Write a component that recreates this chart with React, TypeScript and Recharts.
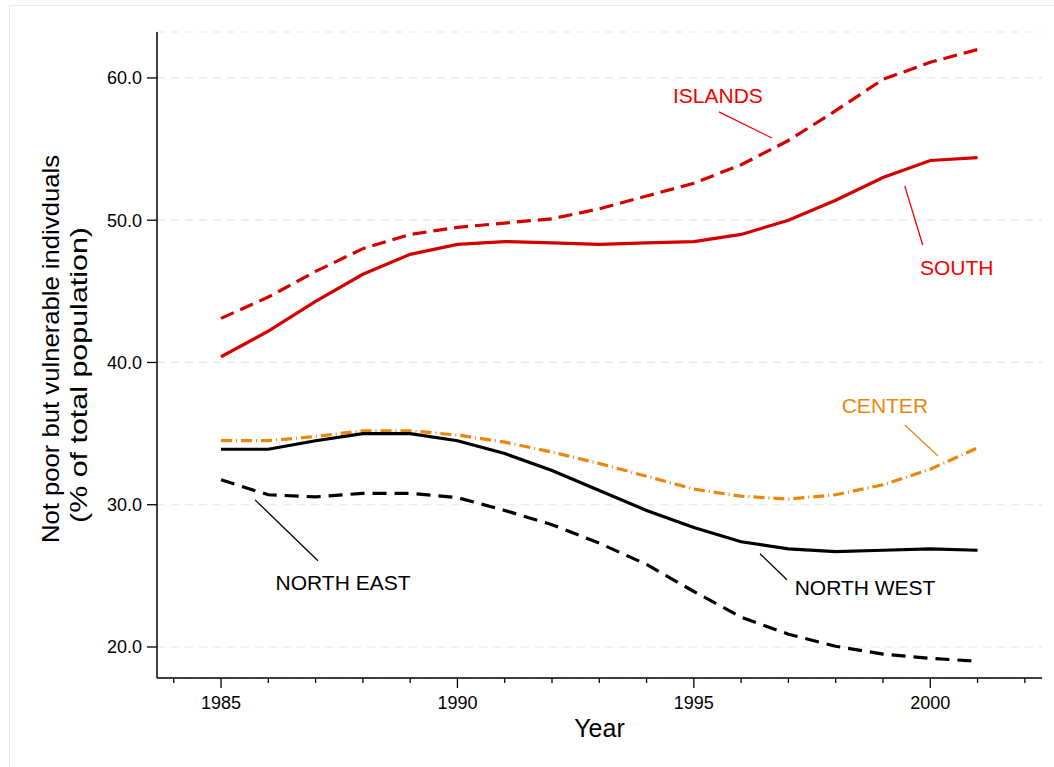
import {
  LineChart,
  Line,
  XAxis,
  YAxis,
  CartesianGrid,
  ReferenceLine,
  ReferenceDot,
  Label,
} from 'recharts'

const years = [1985, 1986, 1987, 1988, 1989, 1990, 1991, 1992, 1993, 1994, 1995, 1996, 1997, 1998, 1999, 2000, 2001]
const islands = [43.1, 44.6, 46.4, 48.0, 49.0, 49.5, 49.8, 50.1, 50.8, 51.7, 52.6, 53.9, 55.6, 57.7, 59.9, 61.1, 62.0]
const south = [40.4, 42.2, 44.3, 46.2, 47.6, 48.3, 48.5, 48.4, 48.3, 48.4, 48.5, 49.0, 50.0, 51.4, 53.0, 54.2, 54.4]
const center = [34.5, 34.5, 34.8, 35.2, 35.2, 34.9, 34.4, 33.7, 32.9, 32.0, 31.1, 30.6, 30.4, 30.7, 31.4, 32.5, 34.0]
const northWest = [33.9, 33.9, 34.5, 35.0, 35.0, 34.5, 33.6, 32.4, 31.0, 29.6, 28.4, 27.4, 26.9, 26.7, 26.8, 26.9, 26.8]
const northEast = [31.75, 30.7, 30.55, 30.8, 30.8, 30.5, 29.6, 28.6, 27.3, 25.8, 23.9, 22.1, 20.9, 20.05, 19.5, 19.2, 19.0]

const xTicks = [1984, 1985, 1986, 1987, 1988, 1989, 1990, 1991, 1992, 1993, 1994, 1995, 1996, 1997, 1998, 1999, 2000, 2001, 2002]
const yTicks = [20, 30, 40, 50, 60]

const RED_LINE = '#d40000'
const RED_TEXT = '#f20000'
const ORANGE = '#e8870e'

const data = years.map((year, i) => ({
  year,
  islands: islands[i],
  south: south[i],
  center: center[i],
  northWest: northWest[i],
  northEast: northEast[i],
}))

// region labels and their leader lines (data coordinates)
const labels = [
  { text: 'ISLANDS', x: 1995.51, y: 58.73, color: RED_TEXT, from: [1995.53, 57.61], to: [1996.65, 55.78] },
  { text: 'SOUTH', x: 2000.56, y: 46.65, color: RED_TEXT, from: [1999.46, 52.41], to: [1999.84, 48.26] },
  { text: 'CENTER', x: 1999.04, y: 36.95, color: ORANGE, from: [1999.46, 35.61], to: [2000.16, 33.44] },
  { text: 'NORTH WEST', x: 1998.62, y: 24.16, color: '#000', from: [1996.4, 26.55], to: [1996.97, 24.72] },
  { text: 'NORTH EAST', x: 1987.58, y: 24.51, color: '#000', from: [1985.72, 30.34], to: [1987.05, 26.06] },
]

const FONT = '"Liberation Sans", Arial, Helvetica, sans-serif'

function XTick(props: any) {
  const { x, y, payload } = props
  const major = payload.value % 5 === 0
  return (
    <g>
      <line x1={x} x2={x} y1={y} y2={y + (major ? 10 : 5)} stroke="#000" strokeWidth={1.3} />
      {major && (
        <text x={x} y={y + 31} textAnchor="middle" fontSize={18} fill="#000" fontFamily={FONT}>
          {payload.value}
        </text>
      )}
    </g>
  )
}

function YTitle(props: any) {
  const { viewBox } = props
  const cy = viewBox.y + viewBox.height / 2
  return (
    <g fontFamily={FONT} fill="#000" fontSize={24} textAnchor="middle">
      <text
        transform={`translate(58.5, ${cy - 6}) rotate(-90)`}
        textLength={388}
        lengthAdjust="spacingAndGlyphs"
      >
        Not poor but vulnerable indivduals
      </text>
      <text
        transform={`translate(87, ${cy + 20}) rotate(-90)`}
        textLength={296}
        lengthAdjust="spacingAndGlyphs"
      >
        (% of total population)
      </text>
    </g>
  )
}

export default function App() {
  return (
    <div style={{ position: 'absolute', left: 0, top: 0, width: 1054, height: 767, background: '#fff', overflow: 'hidden' }}>
      <div style={{ position: 'absolute', left: 9, top: 5, width: 1100, height: 800, border: '1px solid #e3ecee' }} />
      <div style={{ position: 'absolute', left: 0, top: 0 }}>
        <LineChart width={1054} height={767} data={data} margin={{ top: 32, right: 12, bottom: 39, left: 77 }}>
          <CartesianGrid vertical={false} stroke="#dde8ea" strokeDasharray="8 6" strokeWidth={1.2} />
          <XAxis
            dataKey="year"
            type="number"
            domain={[1983.646, 2002.363]}
            ticks={xTicks}
            interval={0}
            allowDataOverflow
            height={50}
            tickSize={0}
            tickMargin={0}
            tickLine={false}
            tick={<XTick />}
            axisLine={{ stroke: '#000', strokeWidth: 1.5 }}
          >
            <Label
              content={(p: any) => (
                <text
                  x={p.viewBox.x + p.viewBox.width / 2}
                  y={737}
                  textAnchor="middle"
                  fontSize={25}
                  fontFamily={FONT}
                  fill="#000"
                >
                  Year
                </text>
              )}
            />
          </XAxis>
          <YAxis
            type="number"
            domain={[17.82, 63.23]}
            ticks={yTicks}
            interval={0}
            allowDataOverflow
            width={80}
            tickSize={10}
            tickMargin={5}
            tickFormatter={(v: number) => v.toFixed(1)}
            tick={{ fill: '#000', fontSize: 18, fontFamily: FONT }}
            tickLine={{ stroke: '#000', strokeWidth: 1.3 }}
            axisLine={{ stroke: '#000', strokeWidth: 1.5 }}
          >
            <Label content={<YTitle />} />
          </YAxis>

          <Line dataKey="islands" stroke={RED_LINE} strokeWidth={3.2} strokeDasharray="14 7" dot={false} isAnimationActive={false} />
          <Line dataKey="south" stroke={RED_LINE} strokeWidth={3.2} dot={false} isAnimationActive={false} />
          <Line dataKey="center" stroke={ORANGE} strokeWidth={3.2} strokeDasharray="11 4 1 4" dot={false} isAnimationActive={false} />
          <Line dataKey="northWest" stroke="#000" strokeWidth={3.2} dot={false} isAnimationActive={false} />
          <Line dataKey="northEast" stroke="#000" strokeWidth={3.2} strokeDasharray="14 8" dot={false} isAnimationActive={false} />

          {labels.map(l => (
            <ReferenceLine
              key={l.text + '-line'}
              segment={[{ x: l.from[0], y: l.from[1] }, { x: l.to[0], y: l.to[1] }]}
              stroke={l.color}
              strokeWidth={1.3}
            />
          ))}
          {labels.map(l => (
            <ReferenceDot
              key={l.text}
              x={l.x}
              y={l.y}
              r={0}
              fill="none"
              stroke="none"
              label={{ value: l.text, position: 'center', fill: l.color, fontSize: 21, fontFamily: FONT }}
            />
          ))}
        </LineChart>
      </div>
    </div>
  )
}
